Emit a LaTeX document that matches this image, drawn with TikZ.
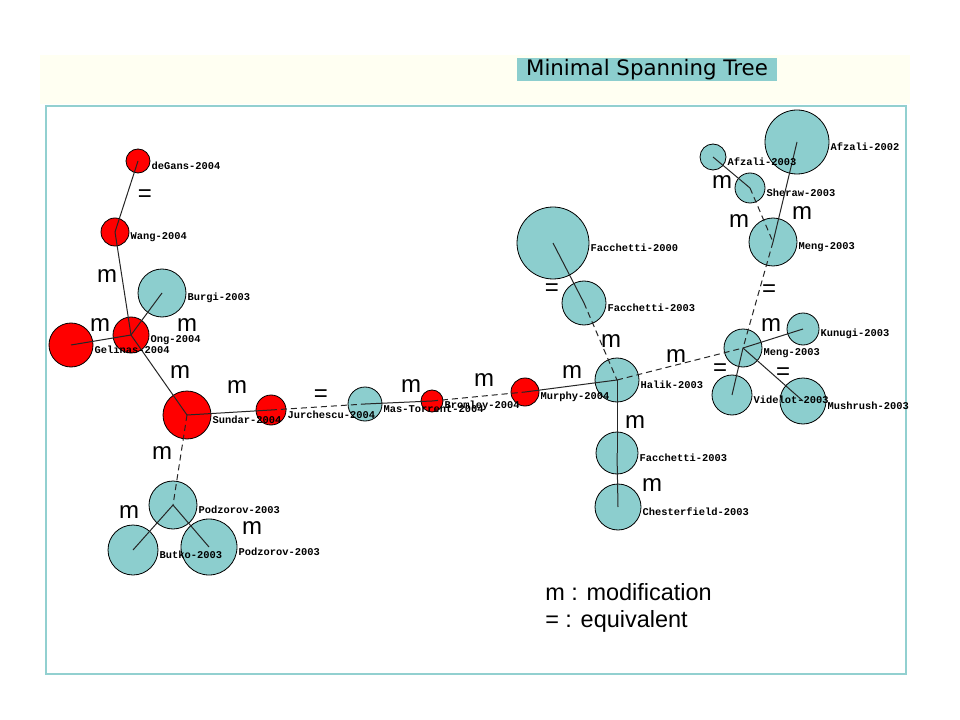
\documentclass[tikz,border=0pt]{standalone}
\usepackage{fontspec}
\setmainfont{Liberation Sans}
\newfontfamily\lblfont{Liberation Mono}
\newfontfamily\ttlfont{DejaVu Sans}
\definecolor{tealfill}{RGB}{140,206,206}
\definecolor{framec}{RGB}{146,208,208}
\definecolor{cream}{RGB}{255,255,242}
\definecolor{redfill}{RGB}{255,0,0}
\begin{document}
\begin{tikzpicture}[x=0.75pt,y=-0.75pt,
  ball/.style={circle,draw=black,line width=0.6pt,inner sep=0pt,minimum size=#1*1.5pt},
  redball/.style={ball=#1,fill=redfill},
  tealball/.style={ball=#1,fill=tealfill},
  lbl/.style={font=\lblfont\bfseries\fontsize{7.8}{9}\selectfont,inner sep=0.8pt,anchor=west,yshift=-3.8pt,text=black},
  ml/.style={font=\fontsize{18}{20}\selectfont,inner sep=0pt},
  legend/.style={font=\fontsize{17.6}{20}\selectfont,inner sep=0pt,anchor=west},
  edge/.style={line width=0.75pt,draw=black!85},
  dedge/.style={edge,dash pattern=on 4.5pt off 3pt}]
\useasboundingbox (0,0) rectangle (960,720);
\fill[white] (0,0) rectangle (960,720);
\fill[cream] (40,55) rectangle (910,104);
\draw[framec,line width=2pt] (46,106) rectangle (906,674);
\node[fill=tealfill,minimum width=195pt,minimum height=17.25pt,inner sep=0pt,font=\ttlfont\fontsize{16}{18}\selectfont] (title) at (647,70) {Minimal Spanning Tree};

% left cluster
\node[redball=12] (degans) at (138,161) {};
\node[redball=14] (wang) at (115,232) {};
\node[tealball=24] (burgi) at (162,293) {};
\node[redball=18] (ong) at (131,335) {};
\node[redball=22] (gelinas) at (71,345) {};
\node[redball=24] (sundar) at (187,415) {};
\node[redball=15] (jurch) at (271,410) {};
\node[tealball=24] (podzA) at (173,505) {};
\node[tealball=25] (butko) at (133,550) {};
\node[tealball=28] (podzB) at (209,547) {};
% middle
\node[tealball=17] (mas) at (365,404) {};
\node[redball=11] (bromley) at (432,401) {};
\node[redball=14] (murphy) at (525,392) {};
\node[tealball=22] (halik) at (617,380) {};
\node[tealball=36] (facA) at (553,243) {};
\node[tealball=22] (facB) at (584,303) {};
\node[tealball=21] (facC) at (617,453) {};
\node[tealball=23] (chest) at (618,507) {};
% right cluster
\node[tealball=32] (afzA) at (797,142) {};
\node[tealball=13] (afzB) at (713,157) {};
\node[tealball=15] (sheraw) at (750,188) {};
\node[tealball=24] (mengA) at (773,242) {};
\node[tealball=16] (kunugi) at (803,329) {};
\node[tealball=19] (mengB) at (743,348) {};
\node[tealball=20] (videlot) at (732,395) {};
\node[tealball=23] (mushrush) at (803,401) {};

% edges
\draw[edge] (degans.center) -- (wang.center);
\draw[edge] (wang.center) -- (ong.center);
\draw[edge] (burgi.center) -- (ong.center);
\draw[edge] (gelinas.center) -- (ong.center);
\draw[edge] (ong.center) -- (sundar.center);
\draw[edge] (sundar.center) -- (jurch.center);
\draw[dedge] (sundar.center) -- (podzA.center);
\draw[edge] (podzA.center) -- (butko.center);
\draw[edge] (podzA.center) -- (podzB.center);
\draw[dedge] (jurch.center) -- (mas.center);
\draw[edge] (mas.center) -- (bromley.center);
\draw[dedge] (bromley.center) -- (murphy.center);
\draw[edge] (murphy.center) -- (halik.center);
\draw[edge] (facA.center) -- (facB.center);
\draw[dedge] (facB.center) -- (halik.center);
\draw[edge] (halik.center) -- (facC.center);
\draw[edge] (facC.center) -- (chest.center);
\draw[dedge] (halik.center) -- (mengB.center);
\draw[edge] (afzB.center) -- (sheraw.center);
\draw[dedge] (sheraw.center) -- (mengA.center);
\draw[edge] (afzA.center) -- (mengA.center);
\draw[dedge] (mengA.center) -- (mengB.center);
\draw[edge] (mengB.center) -- (kunugi.center);
\draw[edge] (mengB.center) -- (videlot.center);
\draw[edge] (mengB.center) -- (mushrush.center);

% node labels
\node[lbl] (tdegans) at (degans.east) {deGans-2004};
\node[lbl] (twang) at (wang.east) {Wang-2004};
\node[lbl] (tburgi) at (burgi.east) {Burgi-2003};
\node[lbl] (tong) at (ong.east) {Ong-2004};
\node[lbl] (tgelinas) at (gelinas.east) {Gelinas-2004};
\node[lbl] (tsundar) at (sundar.east) {Sundar-2004};
\node[lbl] (tjurch) at (jurch.east) {Jurchescu-2004};
\node[lbl] (tpodzA) at (podzA.east) {Podzorov-2003};
\node[lbl] (tbutko) at (butko.east) {Butko-2003};
\node[lbl] (tpodzB) at (podzB.east) {Podzorov-2003};
\node[lbl] (tmas) at (mas.east) {Mas-Torrent-2004};
\node[lbl] (tbromley) at (bromley.east) {Bromley-2004};
\node[lbl] (tmurphy) at (murphy.east) {Murphy-2004};
\node[lbl] (thalik) at (halik.east) {Halik-2003};
\node[lbl] (tfacA) at (facA.east) {Facchetti-2000};
\node[lbl] (tfacB) at (facB.east) {Facchetti-2003};
\node[lbl] (tfacC) at (facC.east) {Facchetti-2003};
\node[lbl] (tchest) at (chest.east) {Chesterfield-2003};
\node[lbl] (tafzA) at (afzA.east) {Afzali-2002};
\node[lbl] (tafzB) at (afzB.east) {Afzali-2003};
\node[lbl] (tsheraw) at (sheraw.east) {Sheraw-2003};
\node[lbl] (tmengA) at (mengA.east) {Meng-2003};
\node[lbl] (tkunugi) at (kunugi.east) {Kunugi-2003};
\node[lbl] (tmengB) at (mengB.east) {Meng-2003};
\node[lbl] (tvidelot) at (videlot.east) {Videlot-2003};
\node[lbl] (tmushrush) at (mushrush.east) {Mushrush-2003};

% edge labels
\node[ml] (e1) at (145,196) {=};
\node[ml] (e2) at (107,276) {m};
\node[ml] (e3) at (100,325) {m};
\node[ml] (e4) at (187,325) {m};
\node[ml] (e5) at (180,372) {m};
\node[ml] (e6) at (237,387) {m};
\node[ml] (e7) at (321,396) {=};
\node[ml] (e8) at (411,386) {m};
\node[ml] (e9) at (484,380) {m};
\node[ml] (e10) at (572,372) {m};
\node[ml] (e11) at (162,453) {m};
\node[ml] (e12) at (129,512) {m};
\node[ml] (e13) at (252,528) {m};
\node[ml] (e14) at (552,290) {=};
\node[ml] (e15) at (611,341) {m};
\node[ml] (e16) at (676,356) {m};
\node[ml] (e17) at (635,422) {m};
\node[ml] (e18) at (652,485) {m};
\node[ml] (e19) at (722,182) {m};
\node[ml] (e20) at (739,221) {m};
\node[ml] (e21) at (802,213) {m};
\node[ml] (e22) at (769,291) {=};
\node[ml] (e23) at (771,325) {m};
\node[ml] (e24) at (720,370) {=};
\node[ml] (e25) at (783,374) {=};

% legend
\node[legend] (leg1) at (545,592) {m : modification};
\node[legend] (leg2) at (545,621) {= : equivalent};
\end{tikzpicture}
\end{document}
